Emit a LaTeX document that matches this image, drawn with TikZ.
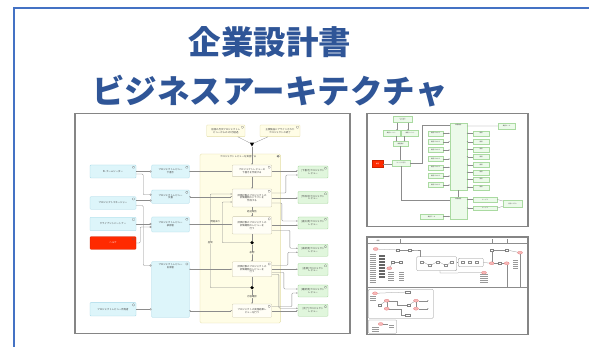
\documentclass[tikz,border=0pt]{standalone}
\usepackage{fontspec}
\setmainfont{Noto Sans CJK JP}
\newfontfamily\cjk{Noto Sans CJK JP}
\usetikzlibrary{arrows.meta,shapes.geometric}
\definecolor{slideblue}{HTML}{4472C4}
\definecolor{titleblue}{HTML}{2F5597}
\definecolor{thumbgray}{HTML}{858585}
\definecolor{actfill}{HTML}{DDF5FA}
\definecolor{actdraw}{HTML}{A0D6E6}
\definecolor{contfill}{HTML}{FFFDE6}
\definecolor{contdraw}{HTML}{E2DDA6}
\definecolor{procfill}{HTML}{FFFEF6}
\definecolor{procdraw}{HTML}{CFCBB0}
\definecolor{grnfill}{HTML}{E0F6DC}
\definecolor{grndraw}{HTML}{A0D697}
\definecolor{redfill}{HTML}{FF2A00}
\definecolor{lgray}{HTML}{8C8C8C}
\definecolor{pinkfill}{HTML}{F7B7B7}
\definecolor{pinkdraw}{HTML}{E07070}
\newcommand\tinyjp{\cjk\fontsize{2.4}{2.8}\selectfont}
\newcommand\microjp{\cjk\fontsize{1.5}{1.8}\selectfont}
\begin{document}
\begin{tikzpicture}[x=1pt,y=-1pt,
  box/.style={draw, rounded corners=0.8pt, line width=0.3pt, inner sep=0.3pt, font=\tinyjp, text=black!75, align=center},
  icn/.style={path picture={\draw[black!60,line width=0.2pt] ([xshift=-3.6pt,yshift=-1.2pt]path picture bounding box.north east) rectangle ++(2.2,2.2);}},
  actor/.style={box, icn, fill=actfill, draw=actdraw},
  redact/.style={box, icn, fill=redfill, draw=redfill!80!black, text=white},
  cont/.style={draw=contdraw, fill=contfill, rounded corners=1.5pt, line width=0.35pt, icn},
  proc/.style={box, icn, fill=procfill, draw=procdraw},
  trig/.style={box, icn, fill=contfill, draw=contdraw},
  obj/.style={box, icn, fill=grnfill, draw=grndraw},
  conn/.style={draw=lgray, line width=0.3pt, rounded corners=1pt},
  arr/.style={conn, -{Stealth[length=1.6pt,width=1.3pt]}},
  asg/.style={conn, -{Circle[open,length=2pt]}},
  flow/.style={conn, {Circle[length=1.1pt]}-{Stealth[length=1.6pt,width=1.3pt]}},
  blackdot/.style={circle, fill=black, inner sep=0, minimum size=3.6pt},
  lab/.style={font=\tinyjp, text=black!75, inner sep=0.3pt, fill=contfill},
  thumb/.style={draw=thumbgray, line width=1.5pt, fill=white},
  sbox/.style={draw=grndraw!90, fill=grnfill!60, line width=0.25pt, inner sep=0, font=\microjp, text=black!70, align=center},
  sconn/.style={draw=lgray, line width=0.25pt},
  sarr/.style={sconn, -{Stealth[length=1.3pt,width=1.2pt]}},
  pel/.style={ellipse, draw=pinkdraw, fill=pinkfill, line width=0.2pt, inner sep=0, minimum width=5pt, minimum height=3pt},
  tbox/.style={draw=black!50, fill=white, line width=0.2pt, inner sep=0, minimum width=3pt, minimum height=2pt},
  txl/.style={draw=black!40, line width=0.35pt},
]
\useasboundingbox (0,0) rectangle (589,347);
\fill[white] (0,0) rectangle (589,347);
\draw[slideblue, line width=2pt] (14,352) -- (14,8) -- (594,8);
\node[font=\cjk\bfseries\fontsize{32.5}{36}\selectfont, text=titleblue, anchor=base, inner sep=0] (t1) at (270,54.5) {企業設計書};
\node[font=\cjk\bfseries\fontsize{32.5}{36}\selectfont, text=titleblue, anchor=base, inner sep=0] (t2) at (270,104) {ビジネスアーキテクチャ};

% ---------- thumbnail frames
\draw[thumb] (75,113.5) rectangle (350,333.5);
\draw[thumb] (367,113.5) rectangle (528,226.5);
\draw[thumb] (367,237) rectangle (528,334.5);

% ---------- main thumbnail
\node[cont, minimum width=80.7pt, minimum height=169pt] (C) at (240.3,238.5) {};
\node[font=\tinyjp, text=black!75, anchor=west, inner sep=0] (Ch) at (220,157) {プロジェクトレビューを実施する};

\node[trig, minimum width=38.3pt, minimum height=11.7pt] (TA) at (225.8,130.8) {前回の月次プロジェクトレ\\ビューからの1か月経過};
\node[trig, minimum width=40pt, minimum height=11.7pt] (TB) at (280,130.8) {主要製品にアサインされた\\プロジェクトの終了};
\node[fill=black, inner sep=0, minimum size=5pt, regular polygon, regular polygon sides=3, shape border rotate=180] (J) at (252,144) {};

\node[actor, minimum width=46pt, minimum height=13pt] (A1) at (113,171.5) {PL チームリーダー};
\node[actor, minimum width=46pt, minimum height=12.6pt] (A2) at (113,203) {プロジェクトマネージャー};
\node[actor, minimum width=46pt, minimum height=13.6pt] (A3) at (113,224) {クライアントパートナー};
\node[redact, minimum width=46pt, minimum height=12.6pt] (A4) at (113,243) {ヘルプ};
\node[actor, minimum width=46pt, minimum height=13.3pt] (A5) at (113,309.3) {プロジェクトレビュー所有者};

\node[actor, minimum width=37.6pt, minimum height=13pt] (R1) at (170.5,171.5) {プロジェクトレビュー\\下書き};
\node[actor, minimum width=37.6pt, minimum height=13.3pt] (R2) at (170.5,196.7) {プロジェクトレビュー\\文書};
\node[actor, minimum width=37.6pt, minimum height=15pt] (R3) at (170.5,224.5) {プロジェクトレビュー\\承認者};
\node[actor, minimum width=37.6pt, minimum height=55.6pt] (R4) at (170.5,289.5) {};
\node[font=\tinyjp, text=black!75, align=center, anchor=north, inner sep=0.3pt] (R4t) at (170.5,263) {プロジェクトレビュー\\出席者};

\node[proc, minimum width=39.4pt, minimum height=11.7pt] (P1) at (252,170.8) {プロジェクトレビューの\\下書きを作成する};
\node[proc, minimum width=39.4pt, minimum height=18pt] (P2) at (252,198) {評価対象のプロジェクトの\\評価期間のドラフトを\\作成する};
\node[proc, minimum width=39.4pt, minimum height=17.3pt] (P3) at (252,225.3) {評価対象のプロジェクトの\\評価期間のレビューを\\行う};
\node[proc, minimum width=39.4pt, minimum height=15pt] (P4) at (252,269.2) {評価対象のプロジェクトの\\評価期間のレビューを\\行う};
\node[proc, minimum width=39.4pt, minimum height=13.3pt] (P5) at (252,310.7) {プロジェクトの実施結果レ\\ビューを行う};
\node[blackdot] (D1) at (252,242.7) {};
\node[blackdot] (D2) at (252,287.7) {};

\node[obj, minimum width=30pt, minimum height=12pt] (G1) at (313,172) {[下書き]プロジェクト\\レビュー};
\node[obj, minimum width=30pt, minimum height=12pt] (G2) at (313,197.5) {[作成中]プロジェクト\\レビュー};
\node[obj, minimum width=30pt, minimum height=12pt] (G3) at (313,223) {[提出済]プロジェクト\\レビュー};
\node[obj, minimum width=30pt, minimum height=12pt] (G4) at (313,250.3) {[承認済]プロジェクト\\レビュー};
\node[obj, minimum width=30pt, minimum height=12pt] (G5) at (313,269.5) {[差戻]プロジェクト\\レビュー};
\node[obj, minimum width=30pt, minimum height=12pt] (G6) at (313,291) {[確認済]プロジェクト\\レビュー};
\node[obj, minimum width=30pt, minimum height=12pt] (G7) at (313,310.3) {[完了]プロジェクト\\レビュー};

% assignments
\draw[asg] (A1.east) -- (A1.east -| R1.west);
\draw[asg] ([yshift=-2.5pt]A1.east) -- ++(7,0) |- ([yshift=2pt]R2.west);
\draw[asg] ([yshift=2.5pt]A2.east) -- ([yshift=2.5pt]A2.east -| R2.west);
\draw[asg] ([yshift=-2.5pt]A2.east) -- ++(7,0) |- ([yshift=24pt]R4.west);
\draw[asg] (A3.east) -- (A3.east -| R3.west);
\draw[asg] (A4.east) -- ++(4,0) |- ([yshift=-2.5pt]R3.west);
\draw[asg] (A5.east) -- (A5.east -| R4.west);
% roles to processes
\draw[flow] (R1.east) -- (R1.east -| P1.west);
\draw[flow] (R2.east) -- (R2.east -| P2.west);
\draw[flow] (R3.east) -- (R3.east -| P3.west);
\draw[flow] (R4.east |- P4.west) -- (P4.west);
\draw[flow] (R4.east |- P5.west) -- (P5.west);
% triggers and flow
\draw[conn] ([xshift=12pt]TA.south) -- (J);
\draw[conn] ([xshift=-12pt]TB.south) -- (J);
\draw[arr] (J) -- (P1.north);
\draw[arr] (P1.south) -- (P2.north);
\draw[arr] (P2.south) -- node[lab] {経過報告} (P3.north);
\draw[conn] (P3.south) -- (D1);
\draw[arr] (D1) -- node[lab] {承認} (P4.north);
\draw[conn] (P4.south) -- (D2);
\draw[arr] (D2) -- node[lab] {内容確認} (P5.north);
\draw[arr] (D1.west) -| ([xshift=-10pt,yshift=-4pt]P2.west) -- ([yshift=-4pt]P2.west);
\draw[arr] (D2.west) -| ([xshift=-22pt,yshift=4pt]P2.west) -- ([yshift=4pt]P2.west);
\node[font=\tinyjp, text=black!75, inner sep=0.2pt] (L1) at (215.5,221.5) {問題あり};
\node[lab] (L2) at (210.3,243) {差戻};
% processes to objects
\draw[arr] (P1.east) -- (P1.east -| G1.west);
\draw[arr] ([yshift=5pt]P2.east) -- ++(14,0) |- ([yshift=-3pt]G1.west);
\draw[arr] (P2.east) -- (P2.east -| G2.west);
\draw[arr] ([yshift=-5pt]P2.east) -- ++(10,0) |- ([yshift=2pt]G3.west);
\draw[arr] (P3.east) -- (P3.east -| G3.west);
\draw[arr] ([yshift=-5pt]P3.east) -- ++(18,0) |- ([yshift=2pt]G4.west);
\draw[arr] ([yshift=4pt]P4.east) -- ++(16,0) |- ([yshift=-2pt]G4.west);
\draw[arr] (P4.east) -- (P4.east -| G5.west);
\draw[arr] ([yshift=-3pt]P4.east) -- ++(12,0) |- ([yshift=2pt]G6.west);
\draw[arr] ([yshift=-5pt]P4.east) -- ++(7,0) |- ([yshift=2pt]G7.west);
\draw[arr] ([yshift=4pt]P5.east) -- ++(20,0) |- ([yshift=-2pt]G6.west);
\draw[arr] (P5.east) -- (P5.east -| G7.west);

% ---------- thumbnail 2
\node[sbox, minimum width=19pt, minimum height=6pt] (b1) at (402.5,119.5) {ビジネス\\トリガー};
\node[sbox, minimum width=17pt, minimum height=5.5pt] (b2) at (391.3,133.3) {業務イベント};
\node[sbox, minimum width=17pt, minimum height=5.5pt] (b3) at (410,133.3) {業務イベント};
\node[sbox, minimum width=15pt, minimum height=4.5pt] (b4) at (400.5,143.8) {業務要求};
\node[fill=redfill, draw=redfill!80!black, line width=0.2pt, inner sep=0, minimum width=11.6pt, minimum height=7.3pt, font=\microjp, text=white] (rd) at (377.5,163.7) {顧客};
\node[sbox, minimum width=18pt, minimum height=5.5pt] (b5) at (401,163.3) {サービス窓口};
\node[sbox, minimum width=16.7pt, minimum height=66.7pt] (V1) at (458.3,156.7) {};
\node[font=\microjp, text=black!70, anchor=north, inner sep=0.3pt] (V1t) at (458.3,124) {業務機能};
\node[sbox, minimum width=16.7pt, minimum height=22pt] (V2) at (458.3,208) {};
\node[font=\microjp, text=black!70, anchor=north, inner sep=0.3pt] (V2t) at (458.3,198) {業務機能};
\foreach \i/\y in {1/133.3,2/141.7,3/150,4/159,5/167.3,6/176,7/185}
  \node[sbox, minimum width=15pt, minimum height=5pt] (L\i) at (435.5,\y) {業務プロセス};
\foreach \i/\y in {1/133.3,2/141.7,3/149.3,4/156.7,5/165,6/172.3,7/179.3,8/187.3}
  \node[sbox, minimum width=16pt, minimum height=5pt] (Q\i) at (481,\y) {情報};
\node[sbox, minimum width=17pt, minimum height=6pt] (TR) at (506.5,126) {業務ルール};
\node[sbox, minimum width=24pt, minimum height=4.5pt] (r1) at (485,199.5) {サービス};
\node[sbox, minimum width=24pt, minimum height=4.5pt] (r2) at (485,208) {サービス};
\node[sbox, minimum width=19pt, minimum height=7pt] (r3) at (512.5,203.5) {外部システム};
\node[sbox, minimum width=23pt, minimum height=5pt] (bl) at (431.5,216.5) {業務データ};
\draw[sarr] ([xshift=-5.5pt]b1.south) -- ([xshift=-5.5pt]b1.south |- b2.north);
\draw[sarr] ([xshift=5.5pt]b1.south) -- ([xshift=5.5pt]b1.south |- b3.north);
\draw[sarr] ([xshift=-4pt]b4.north |- b2.south) -- ([xshift=-4pt]b4.north);
\draw[sarr] ([xshift=4pt]b4.north |- b3.south) -- ([xshift=4pt]b4.north);
\draw[sconn] (b4.south) -- (b4.south |- b5.north);
\draw[sconn] (rd.east) -- (rd.east -| b5.west);
\draw[sconn] (b5.east) -- ++(12,0) |- ([yshift=-2pt]V1.north west);
\draw[sconn] (b5.south) |- ([yshift=8pt]V2.west);
\foreach \i in {1,...,7} \draw[sarr] (L\i.east) -- (L\i.east -| V1.west);
\foreach \i in {1,...,8} \draw[sarr] (Q\i.west) -- (Q\i.west -| V1.east);
\draw[sconn] ([yshift=-2.7pt]V1.north east) -- (TR.west);
\draw[sconn] (V1.south) -- (V2.north);
\draw[sarr] (r1.west) -- (r1.west -| V2.east);
\draw[sarr] (r2.west) -- (r2.west -| V2.east);
\draw[sconn] (r1.east) -- (r3);
\draw[sconn] (r2.east) -- (r3);
\draw[sarr] (bl.east) -- (bl.east -| V2.west);

% ---------- thumbnail 3
\draw[sconn] (368,243) -- (527,243);
\draw[sconn] (368,286.7) -- (527,286.7);
\foreach \x in {400,492,507} \draw[sconn] (\x,239.5) -- (\x,243);
\node[font=\microjp, text=black!70, inner sep=0] (h1) at (378,240.5) {概要};
\node[pel] (e1) at (375.7,249) {};
\node[pel] (e2) at (389.3,268.3) {};
\node[pel] (e3) at (484,272.7) {};
\node[pel] (e4) at (491.7,263.3) {};
\node[pel] (e5) at (506.7,263.3) {};
\node[pel] (e6) at (520,252.7) {};
\node[tbox] (s1) at (398,250) {};
\node[tbox] (s2) at (410,250) {};
\node[tbox] (s3) at (393,262) {};
\node[tbox] (s4) at (401,262) {};
\node[tbox] (s5) at (492,250) {};
\node[tbox] (s6) at (507,250) {};
\node[tbox] (s7) at (499.5,263.3) {};
\draw[sconn] (e1) -- (s1);
\draw[sconn] (s1) -- (s2);
\draw[sconn] (s3) -- (s4);
\draw[sconn] (e2) -- (s3);
\draw[sconn] (s2.east) -- ++(4,0) |- (420,250) -- (420,256.7);
\draw[sconn, rounded corners=1pt] (416.7,256.7) rectangle (456.7,270.7);
\foreach \x/\y in {422/262,430/265,438/262,446/265,452/262} \draw[sconn] (\x-1.5,\y-1) rectangle (\x+1.5,\y+1);
\draw[sconn] (423.5,262) -- (428.5,265) (431.5,265) -- (436.5,262) (439.5,262) -- (444.5,265) (447.5,265) -- (450.5,262);
\draw[sconn, rounded corners=1pt] (458.3,258.3) rectangle (483.3,266.7);
\foreach \x in {463,470,477} \draw[sconn] (\x-1.5,261.3) rectangle (\x+1.5,263.3);
\draw[sconn] (456.7,262) -- (458.3,262);
\draw[sconn] (440,270.7) -- (440,273) -- (e3);
\draw[sconn] (483.3,262.5) -- (e4);
\draw[sconn] (e4) -- (s7);
\draw[sconn] (s7) -- (e5);
\draw[sconn] (s5) -- (s6);
\draw[sconn] (s6) -- (e6);
\draw[sconn] (s5) -- (s5 |- e4.north);
\draw[sconn] (e5) -- (e5 |- 0,286.7);
\draw[sconn] (e6) -- (e6 |- 0,286.7);
\foreach \y in {254,256,258,260,262,264,266,268,270,272,274,276,278,280,282}
  \draw[txl] (369.5,\y) -- (375.5,\y);
\foreach \y in {255,256.5,258,259.5,261,262.5,264,265.5,267,268.5,270,271.5,273,274.5,276,277.5}
  \draw[draw=black!60, line width=0.5pt] (379,\y) -- (385,\y);
\foreach \y in {272,274,276,278,280} {
  \draw[txl] (388,\y) -- (394,\y);
  \draw[txl] (399,\y) -- (404,\y);
  \draw[txl] (480,\y+2) -- (488,\y+2);
  \draw[txl] (513,\y-12) -- (518,\y-12);
}
% lower-left block
\draw[sconn, rounded corners=1pt] (368.3,289.3) rectangle (433.3,318.3);
\node[pel] (e7) at (375,293.3) {};
\node[pel] (e8) at (386.7,300.7) {};
\node[pel] (e9) at (386.7,308.7) {};
\node[pel] (e10) at (416,300.7) {};
\node[pel] (e11) at (416,308.7) {};
\node[tbox, minimum width=5pt, minimum height=2.5pt] (s8) at (407.5,292) {};
\node[tbox, minimum width=5pt, minimum height=2.5pt] (s9) at (407.5,315) {};
\node[tbox] (s10) at (380,304.7) {};
\node[tbox] (s11) at (409,304.7) {};
\draw[sconn] (e7) -- (s8);
\draw[sconn] (e8) -- (e9);
\draw[sconn] (e10) -- (e11);
\draw[sconn] (e8.east) -- ++(8,0) |- (s11);
\draw[sconn] (s11) -- (e10);
\draw[sarr] (e10.east) -- ++(10,0);
\draw[sarr] (e11.east) -- ++(10,0);
\draw[sconn] (e9.east) -- ++(12,0) |- (s9);
\draw[sconn] (s10) -- (e8);
\foreach \y in {296,298,300} \draw[txl] (370,\y) -- (376,\y);
% small bottom block
\draw[sconn, rounded corners=1pt] (368.3,320) rectangle (396.7,333.3);
\node[pel] (e12) at (380.7,324) {};
\draw[sconn] (e12) -- (388,324);
\foreach \y in {327,329,331} \draw[txl] (372,\y) -- (379,\y);
\foreach \y in {325,327} \draw[txl] (389,\y) -- (394,\y);
\end{tikzpicture}
\end{document}
